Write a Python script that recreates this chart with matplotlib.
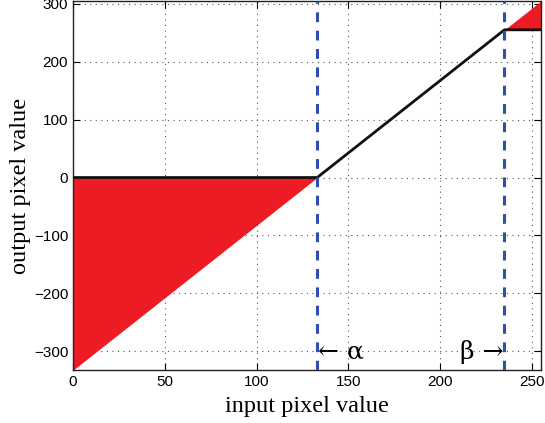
import numpy as np
import matplotlib
matplotlib.use("Agg")
import matplotlib.pyplot as plt

alpha = 133
beta = 235
x_vals = np.arange(0, 256)
xticks = [0, 50, 100, 150, 200, 250]
yticks = [-300, -200, -100, 0, 100, 200, 300]

raw = 255.0 * (x_vals - alpha) / (beta - alpha)
clipped = np.clip(raw, 0, 255)

fig = plt.figure(figsize=(5.45, 4.23), dpi=100)
ax = fig.add_axes([0.134, 0.125, 0.859, 0.873])

ax.fill_between(x_vals, raw, clipped, color="#ED1C24", linewidth=0, zorder=2)
ax.plot(x_vals, clipped, color="#111111", linewidth=2, zorder=4)
ax.axvline(alpha, color="#2F4FB0", linestyle=(0, (3.2, 2.8)), linewidth=2.2, zorder=5)
ax.axvline(beta, color="#2F4FB0", linestyle=(0, (3.2, 2.8)), linewidth=2.2, zorder=5)

ax.set_xlim(0, 255)
ax.set_ylim(raw.min(), raw.max())
ax.set_xticks(xticks)
ax.set_yticks(yticks)
ax.set_xticklabels([str(t) for t in xticks])
ax.set_yticklabels([str(t).replace("-", "\u2212") for t in yticks])
ax.grid(True, linestyle=(0, (1, 4)), color="#555555", linewidth=0.8, zorder=1)
ax.set_axisbelow(True)
ax.tick_params(direction="in", top=True, right=True, length=5, labelsize=11)
for lab in ax.get_xticklabels() + ax.get_yticklabels():
    lab.set_family("Liberation Sans")
for s in ax.spines.values():
    s.set_linewidth(1.0)
    s.set_color("#222222")

ax.text(alpha + 0.5, -302, "\u2190 \u03b1", fontsize=18, family="DejaVu Serif",
        ha="left", va="center", zorder=6)
ax.text(beta - 0.5, -302, "\u03b2 \u2192", fontsize=18, family="DejaVu Serif",
        ha="right", va="center", zorder=6)

ax.set_xlabel("input pixel value", fontsize=17.5, family="Liberation Serif", labelpad=5)
ax.set_ylabel("output pixel value", fontsize=17.5, family="Liberation Serif", labelpad=2)

fig.savefig("out.png", dpi=100)
